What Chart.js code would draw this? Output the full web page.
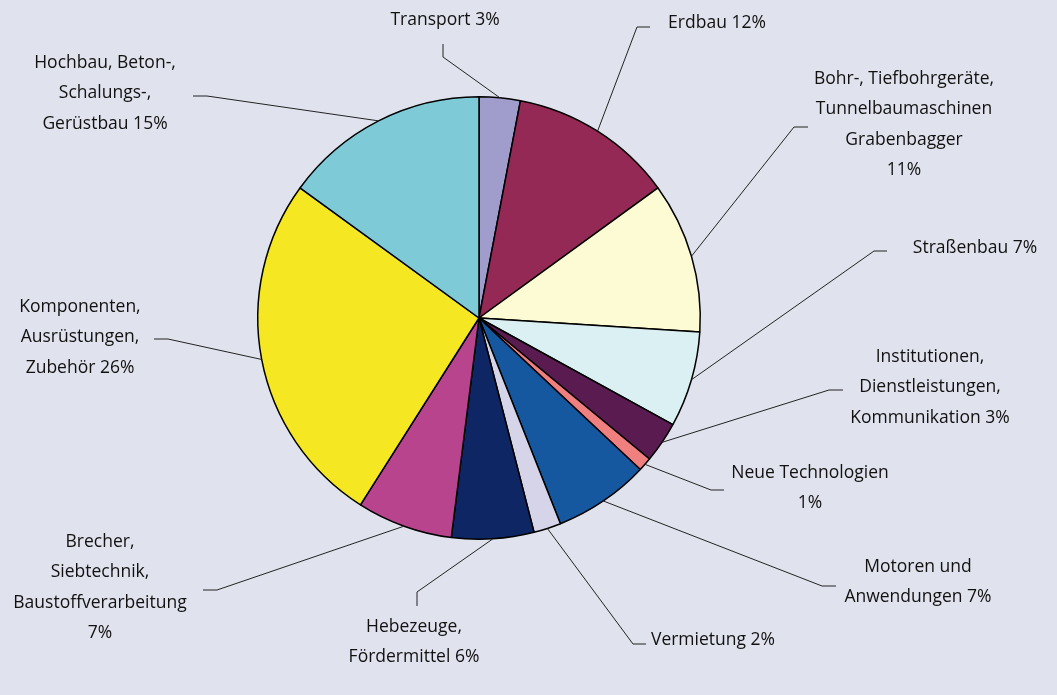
<!DOCTYPE html>
<html>
<head>
<meta charset="utf-8">
<script src="https://cdn.jsdelivr.net/npm/chart.js@4"></script>
<style>
  html, body { margin: 0; padding: 0; background: #e0e3ed; }
  #wrap { width: 1057px; height: 695px; }
</style>
</head>
<body>
<div id="wrap"><canvas id="myChart" width="1057" height="695"></canvas></div>
<script>
const categories = [
    ['Transport 3%'],
    ['Erdbau 12%'],
    ['Bohr-, Tiefbohrgeräte,', 'Tunnelbaumaschinen', 'Grabenbagger', '11%'],
    ['Straßenbau 7%'],
    ['Institutionen,', 'Dienstleistungen,', 'Kommunikation 3%'],
    ['Neue Technologien', '1%'],
    ['Motoren und', 'Anwendungen 7%'],
    ['Vermietung 2%'],
    ['Hebezeuge,', 'Fördermittel 6%'],
    ['Brecher,', 'Siebtechnik,', 'Baustoffverarbeitung', '7%'],
    ['Komponenten,', 'Ausrüstungen,', 'Zubehör 26%'],
    ['Hochbau, Beton-,', 'Schalungs-,', 'Gerüstbau 15%']
];
const shares = [3, 12, 11, 7, 3, 1, 7, 2, 6, 7, 26, 15];

const sliceColors = ['#a09ccb', '#952955', '#fdfbd3', '#dbf0f2', '#5a1c50', '#f08080',
    '#1558a0', '#d6d4e8', '#0f2664', '#b8448e', '#f5e823', '#7ecbd7'];

// label text centre + first line y, then the two leader points (label end, elbow)
const labelLayout = [
    { x: 445, y: 20, p1: [443, 44], p2: [443, 57] },
    { x: 717, y: 23, p1: [650, 27], p2: [637, 27] },
    { x: 904, y: 79, p1: [808, 127], p2: [794, 127] },
    { x: 975, y: 248, p1: [887, 251], p2: [874, 251] },
    { x: 930, y: 357, p1: [843, 390], p2: [829, 390] },
    { x: 810, y: 473, p1: [724, 490], p2: [711, 490] },
    { x: 918, y: 567, p1: [836, 586], p2: [822, 586] },
    { x: 713, y: 640, p1: [646, 644], p2: [633, 644] },
    { x: 414, y: 627, p1: [417, 606], p2: [417, 592] },
    { x: 100, y: 542, p1: [203, 590], p2: [217, 590] },
    { x: 80, y: 307, p1: [154, 339], p2: [168, 339] },
    { x: 105, y: 63, p1: [193, 96], p2: [207, 96] }
];
const lineHeight = 30.5;

const leaderLabels = {
    id: 'leaderLabels',
    afterDraw(chart) {
        const c = chart.ctx;
        const arcs = chart.getDatasetMeta(0).data;
        c.save();
        c.strokeStyle = '#222';
        c.lineWidth = 1;
        arcs.forEach((arc, i) => {
            const lay = labelLayout[i];
            const mid = (arc.startAngle + arc.endAngle) / 2;
            const ex = arc.x + Math.cos(mid) * arc.outerRadius;
            const ey = arc.y + Math.sin(mid) * arc.outerRadius;
            c.beginPath();
            c.moveTo(lay.p1[0], lay.p1[1]);
            c.lineTo(lay.p2[0], lay.p2[1]);
            c.lineTo(ex, ey);
            c.stroke();

            c.fillStyle = '#111';
            c.font = '17.5px "Open Sans"';
            c.textAlign = 'center';
            c.textBaseline = 'middle';
            categories[i].forEach((line, k) => {
                c.fillText(line, lay.x, lay.y + k * lineHeight);
            });
        });
        c.restore();
    }
};

const ctx = document.getElementById('myChart');

new Chart(ctx, {
    type: 'pie',
    data: {
        labels: categories.map(l => l.join(' ')),
        datasets: [{
            data: shares,
            backgroundColor: sliceColors,
            borderColor: '#000',
            borderWidth: 1.5
        }]
    },
    options: {
        responsive: false,
        animation: false,
        layout: {
            padding: { top: 96, bottom: 155, left: 257, right: 356 }
        },
        plugins: {
            legend: { display: false },
            tooltip: { enabled: false }
        }
    },
    plugins: [leaderLabels]
});
</script>
</body>
</html>
